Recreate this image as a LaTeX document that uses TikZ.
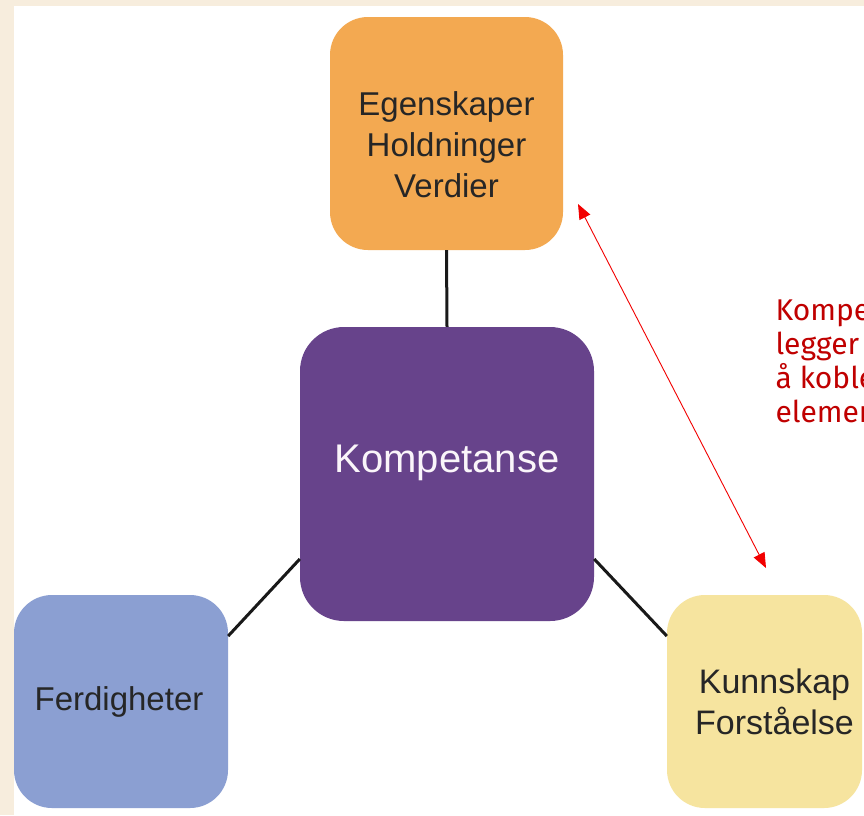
\documentclass[tikz,border=0pt]{standalone}
\usepackage{fontspec}
\setmainfont{Liberation Sans}
\newfontfamily\notefont{Fira Sans}
\usetikzlibrary{arrows.meta}
\definecolor{pagebeige}{HTML}{F7EDDD}
\definecolor{boxorange}{HTML}{F3A951}
\definecolor{boxpurple}{HTML}{67438B}
\definecolor{boxblue}{HTML}{8B9FD2}
\definecolor{boxyellow}{HTML}{F6E49F}
\definecolor{notered}{HTML}{C00000}
\definecolor{arrowred}{HTML}{F20000}
\tikzset{
  area/.style={rounded corners=38pt, inner sep=0pt},
  areatext/.style={inner sep=0pt, align=center, text=black!85},
  link/.style={line width=3pt, black!90},
  twoway/.style={arrowred, line width=0.9pt, {Triangle[length=15pt,width=12pt]}-{Triangle[length=15pt,width=12pt]}},
  note/.style={anchor=base west, text=notered, font=\notefont\fontsize{30}{34}\selectfont}
}
\begin{document}
\begin{tikzpicture}[x=1pt,y=-1pt]
  % page background and white panel
  \fill[pagebeige] (0,0) rectangle (864,815);
  \fill[white] (14,6) rectangle (864,815);
  \useasboundingbox (0,0) rectangle (864,815);
  \begin{scope}
  \clip (14,6) rectangle (864,815);

  % the four areas
  \node[area, fill=boxorange, minimum width=233pt, minimum height=233pt] (values) at (446.5,133.5) {};
  \node[area, fill=boxpurple, rounded corners=44pt, minimum width=294pt, minimum height=294pt] (core) at (447,474) {};
  \node[area, fill=boxblue, minimum width=214pt, minimum height=213pt] (skills) at (121,701.5) {};
  \node[area, fill=boxyellow, minimum width=195pt, minimum height=213pt] (knowledge) at (764.5,701.5) {};

  % their texts
  \node[areatext, font=\fontsize{33}{41}\selectfont] (valuesT) at ([yshift=-11pt]values.center)
        {Egenskaper\\Holdninger\\Verdier};
  \node[areatext, text=white!96!violet, font=\fontsize{40}{48}\selectfont] (coreT) at ([yshift=11pt]core.center)
        {Kompetanse};
  \node[areatext, font=\fontsize{33}{40}\selectfont] (skillsT) at ([xshift=-2pt]skills.center)
        {Ferdigheter};
  \node[areatext, font=\fontsize{34}{41}\selectfont] (knowledgeT) at ([xshift=10pt]knowledge.center)
        {Kunnskap\\Forståelse};

  % connectors to the centre
  \draw[link] (values.south) -- (core.north);
  \draw[link] (core.west |- 0,559) -- (skills.east |- 0,636);
  \draw[link] (core.east |- 0,559) -- (knowledge.west |- 0,636);

  % double-headed arrow between two areas
  \coordinate (arrA) at (578,204);
  \coordinate (arrB) at (766,568);
  \draw[twoway] (arrA) -- (arrB);

  % side note
  \node[note] (n1) at (772,320) {Kompetanse};
  \node[note] (n2) at (772,354) {legger vekt på};
  \node[note] (n3) at (772,388) {å koble sammen};
  \node[note] (n4) at (772,422) {elementene};
  \end{scope}
\end{tikzpicture}
\end{document}
